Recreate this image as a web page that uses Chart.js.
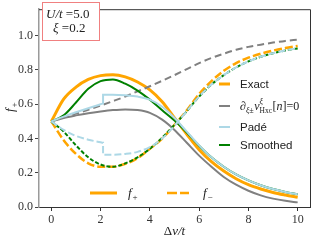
<!DOCTYPE html>
<html>
<head>
<meta charset="utf-8">
<script src="https://cdn.jsdelivr.net/npm/chart.js@4.4.1/dist/chart.umd.min.js"></script>
<style>
  html, body { margin: 0; padding: 0; background: #fff; }
  #wrap { width: 319px; height: 243px; }
</style>
</head>
<body>
<div id="wrap"><canvas id="chart"></canvas></div>
<script>
// values
const xGrid = [0, 0.5, 1, 1.5, 2, 2.5, 3, 3.5, 4, 4.5, 5, 5.5, 6, 6.5, 7, 7.5, 8, 8.5, 9, 9.5, 10];

const exactPlus  = [0.50, 0.63, 0.70, 0.745, 0.767, 0.772, 0.76, 0.73, 0.684, 0.615, 0.52, 0.425, 0.335, 0.265, 0.21, 0.165, 0.13, 0.105, 0.085, 0.07, 0.057];
const exactMinus = [0.50, 0.39, 0.31, 0.255, 0.235, 0.235, 0.252, 0.285, 0.34, 0.40, 0.48, 0.565, 0.66, 0.735, 0.795, 0.84, 0.872, 0.895, 0.913, 0.928, 0.94];

const hxcPlus  = [0.50, 0.52, 0.535, 0.548, 0.558, 0.566, 0.57, 0.566, 0.55, 0.51, 0.45, 0.375, 0.30, 0.235, 0.175, 0.13, 0.095, 0.068, 0.049, 0.036, 0.027];
const hxcMinus = [0.50, 0.522, 0.545, 0.568, 0.592, 0.618, 0.645, 0.675, 0.705, 0.737, 0.77, 0.805, 0.84, 0.87, 0.895, 0.918, 0.935, 0.948, 0.96, 0.97, 0.977];

const padeX     = [0, 0.5, 1, 1.5, 2, 2.1, 2.1, 2.5, 3, 3.5, 4, 4.5, 5, 5.5, 6, 6.5, 7, 7.5, 8, 8.5, 9, 9.5, 10];
const padePlus  = [0.50, 0.528, 0.553, 0.577, 0.60, 0.605, 0.655, 0.655, 0.652, 0.645, 0.627, 0.585, 0.52, 0.44, 0.36, 0.29, 0.235, 0.19, 0.155, 0.127, 0.105, 0.088, 0.074];
const padeMinus = [0.50, 0.45, 0.415, 0.393, 0.378, 0.375, 0.305, 0.305, 0.31, 0.322, 0.35, 0.40, 0.475, 0.56, 0.645, 0.715, 0.77, 0.815, 0.85, 0.877, 0.898, 0.914, 0.926];

const smoothPlus  = [0.50, 0.535, 0.61, 0.69, 0.735, 0.745, 0.72, 0.68, 0.627, 0.565, 0.505, 0.435, 0.358, 0.29, 0.235, 0.19, 0.155, 0.127, 0.105, 0.088, 0.074];
const smoothMinus = [0.50, 0.44, 0.36, 0.29, 0.248, 0.235, 0.255, 0.29, 0.34, 0.405, 0.48, 0.56, 0.645, 0.715, 0.77, 0.815, 0.85, 0.877, 0.898, 0.914, 0.926];

const xTicks = [0, 2, 4, 6, 8, 10];
const yTicks = [0, 0.2, 0.4, 0.6, 0.8, 1.0];

const ORANGE = "#ffa500", GRAY = "#808080", LBLUE = "#add8e6", GREEN = "#008000";
const SERIF = "'Liberation Serif', 'DejaVu Serif', serif";
const SANS = "'Liberation Sans', Arial, sans-serif";

function pts(xs, ys) {
    return xs.map((x, i) => ({ x: x, y: ys[i] }));
}

function line(label, xs, ys, color, width, dash, order) {
    return {
        label: label,
        data: pts(xs, ys),
        borderColor: color,
        borderWidth: width,
        borderDash: dash || [],
        pointRadius: 0,
        fill: false,
        cubicInterpolationMode: "monotone",
        order: order
    };
}

// lower order is drawn on top
const datasets = [
    line("Padé f+", padeX, padePlus, LBLUE, 2, null, 1),
    line("Padé f-", padeX, padeMinus, LBLUE, 2, [7, 3], 2),
    line("Smoothed f+", xGrid, smoothPlus, GREEN, 2, null, 3),
    line("Smoothed f-", xGrid, smoothMinus, GREEN, 2, [4, 2], 4),
    line("Hxc f+", xGrid, hxcPlus, GRAY, 2, null, 5),
    line("Hxc f-", xGrid, hxcMinus, GRAY, 2, [7, 4], 6),
    line("Exact f+", xGrid, exactPlus, ORANGE, 3, null, 7),
    line("Exact f-", xGrid, exactMinus, ORANGE, 2.5, [8, 3], 8)
];

// text drawn in pieces (italic, sub/superscripts)
function pieces(ctx, x, y, parts) {
    parts.forEach(p => {
        ctx.font = p.f;
        ctx.fillText(p.t, x + (p.dx || 0), y + (p.dy || 0));
        if (!p.stay) x += ctx.measureText(p.t).width + (p.dx || 0);
    });
    return x;
}

function handle(ctx, x1, x2, y, color, width, dash) {
    ctx.save();
    ctx.strokeStyle = color;
    ctx.lineWidth = width;
    ctx.setLineDash(dash || []);
    ctx.beginPath();
    ctx.moveTo(x1, y);
    ctx.lineTo(x2, y);
    ctx.stroke();
    ctx.restore();
}

const decorations = {
    id: "decorations",
    afterDraw(chart) {
        const ctx = chart.ctx;
        const a = chart.chartArea;
        ctx.save();

        // top and right spines
        ctx.strokeStyle = "#333";
        ctx.lineWidth = 1;
        ctx.beginPath();
        ctx.moveTo(a.left, a.top + 0.5);
        ctx.lineTo(a.right + 0.5, a.top + 0.5);
        ctx.lineTo(a.right + 0.5, a.bottom);
        ctx.stroke();

        ctx.fillStyle = "#222";
        ctx.textBaseline = "alphabetic";
        ctx.textAlign = "left";

        // parameter box
        ctx.fillStyle = "#fff";
        ctx.fillRect(42, 2, 57, 38);
        ctx.strokeStyle = "#f08080";
        ctx.strokeRect(42.5, 2.5, 57, 38);
        ctx.fillStyle = "#222";
        pieces(ctx, 46, 18, [
            { t: "U/t", f: "italic 13px " + SERIF },
            { t: " =5.0", f: "13px " + SERIF }
        ]);
        pieces(ctx, 53, 32, [
            { t: "ξ", f: "italic 13px " + SERIF },
            { t: " =0.2", f: "13px " + SERIF }
        ]);

        // method legend
        handle(ctx, 219, 230, 84, ORANGE, 3);
        handle(ctx, 219, 230, 106, GRAY, 2);
        handle(ctx, 219, 230, 127, LBLUE, 2);
        handle(ctx, 219, 230, 145, GREEN, 2);
        ctx.font = "11.5px " + SANS;
        ctx.fillText("Exact", 240, 88);
        ctx.fillText("Padé", 240, 131);
        ctx.fillText("Smoothed", 240, 149);
        let px = pieces(ctx, 240, 110, [
            { t: "∂", f: "italic 12px " + SERIF },
            { t: "ξ±", f: "italic 8px " + SERIF, dy: 3 },
            { t: "v", f: "italic 12px " + SERIF, dx: 0.5 }
        ]);
        pieces(ctx, px, 110, [
            { t: "ξ", f: "italic 8px " + SERIF, dy: -6, stay: true },
            { t: "Hxc", f: "7.5px " + SERIF, dy: 3 },
            { t: "[", f: "12px " + SERIF, dx: 0.5 },
            { t: "n", f: "italic 12px " + SERIF },
            { t: "]=0", f: "12px " + SERIF }
        ]);

        // f+/f- legend
        handle(ctx, 90, 117, 193, ORANGE, 3);
        handle(ctx, 167, 189, 193, ORANGE, 2.5, [10, 3]);
        pieces(ctx, 128, 197, [
            { t: "f", f: "italic 13px " + SERIF },
            { t: "+", f: "9px " + SERIF, dy: 3, dx: 1 }
        ]);
        pieces(ctx, 203, 197, [
            { t: "f", f: "italic 13px " + SERIF },
            { t: "−", f: "9px " + SERIF, dy: 3, dx: 1 }
        ]);

        // axis titles
        ctx.font = "13px " + SERIF;
        let w = ctx.measureText("Δ").width;
        ctx.font = "italic 13px " + SERIF;
        w += ctx.measureText("v/t").width;
        pieces(ctx, (a.left + a.right) / 2 - w / 2, 235, [
            { t: "Δ", f: "13px " + SERIF },
            { t: "v/t", f: "italic 13px " + SERIF }
        ]);
        ctx.translate(14, 112);
        ctx.rotate(-Math.PI / 2);
        pieces(ctx, 0, 0, [
            { t: "f", f: "italic 13px " + SERIF },
            { t: "+", f: "9px " + SERIF, dy: 3, dx: 1 }
        ]);
        ctx.restore();
    }
};

new Chart(document.getElementById("chart"), {
    type: "line",
    data: { datasets: datasets },
    options: {
        responsive: true,
        maintainAspectRatio: false,
        animation: false,
        devicePixelRatio: 1,
        layout: { padding: { left: 0, right: 9, top: 4, bottom: 0 } },
        plugins: { legend: { display: false }, tooltip: { enabled: false } },
        scales: {
            x: {
                type: "linear",
                min: -0.5,
                max: 10.5,
                afterBuildTicks: s => { s.ticks = xTicks.map(v => ({ value: v })); },
                afterFit: s => { s.height = 36; },
                grid: { drawOnChartArea: false, drawTicks: true, tickLength: 4, color: "#333" },
                border: { display: true, color: "#333", width: 1 },
                ticks: { font: { family: SERIF, size: 12 }, color: "#333", padding: 2, maxRotation: 0 }
            },
            y: {
                min: 0,
                max: 1.155,
                afterBuildTicks: s => { s.ticks = yTicks.map(v => ({ value: v })); },
                afterFit: s => { s.width = 39; },
                grid: { drawOnChartArea: false, drawTicks: true, tickLength: 4, color: "#444" },
                border: { display: true, color: "#9a9a9a", width: 1.5 },
                ticks: { font: { family: SERIF, size: 12 }, color: "#333", padding: 2, callback: v => v.toFixed(1) }
            }
        }
    },
    plugins: [decorations]
});
</script>
</body>
</html>
